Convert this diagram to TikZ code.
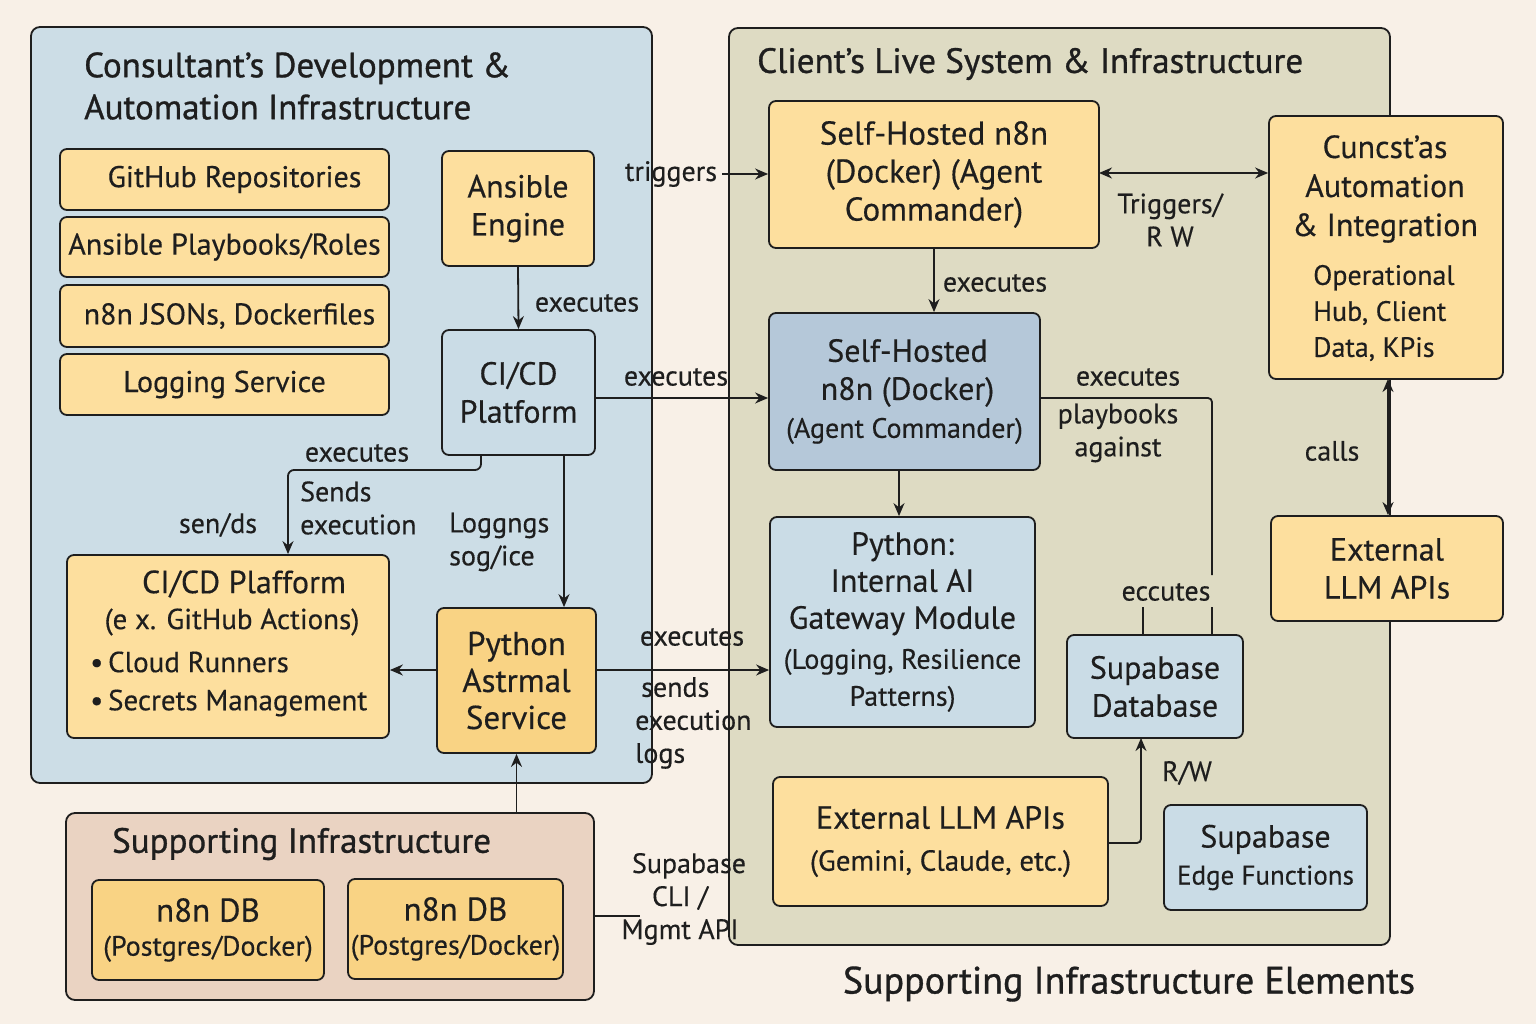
\documentclass[tikz,border=0pt]{standalone}
\usepackage{fontspec}
\setmainfont[FakeBold=0.35]{PT Sans}
\newfontfamily\titlefont[FakeBold=0.9]{PT Sans}
\usetikzlibrary{arrows.meta,calc}
\definecolor{bgc}{HTML}{F8F0E7}
\definecolor{cpan}{HTML}{CCDDE6}
\definecolor{lpan}{HTML}{DEDBC3}
\definecolor{span}{HTML}{EAD3C2}
\definecolor{yel}{HTML}{FDDF9E}
\definecolor{org}{HTML}{F9D384}
\definecolor{lblue}{HTML}{CADCE6}
\definecolor{dblue}{HTML}{B5C8D9}
\definecolor{ink}{HTML}{1E1E1E}
\tikzset{
  panel/.style={draw=ink, line width=1.8pt, rounded corners=9pt, inner sep=0pt},
  box/.style={draw=ink, line width=1.8pt, rounded corners=7pt, inner sep=0pt, align=center, font=\fontsize{31}{37}\selectfont, text=ink},
  ybox/.style={box, fill=yel},
  bbox/.style={box, fill=lblue},
  lbl/.style={inner sep=0pt, font=\fontsize{28}{33}\selectfont, text=ink},
  ttl/.style={inner sep=0pt, text=ink, font=\titlefont\fontsize{35}{42}\selectfont},
  arr/.style={draw=ink, line width=1.8pt, -{Stealth[length=13pt,width=11pt]}},
  darr/.style={draw=ink, line width=1.8pt, {Stealth[length=13pt,width=11pt]}-{Stealth[length=13pt,width=11pt]}},
  ln/.style={draw=ink, line width=1.8pt},
}
\begin{document}
\begin{tikzpicture}[x=1pt,y=-1pt]
\fill[bgc] (0,0) rectangle (1536,1024);
\useasboundingbox (0,0) rectangle (1536,1024);

% panels
\node[panel, fill=cpan, minimum width=621pt, minimum height=756pt] (cpanel) at (341.5,405) {};
\node[panel, fill=lpan, minimum width=661pt, minimum height=917pt] (lpanel) at (1059.5,486.5) {};
\node[panel, fill=span, minimum width=528pt, minimum height=187pt] (spanel) at (330,906.5) {};

% titles
\node[ttl, anchor=west, align=left] (ctitle) at (84,86) {Consultant’s Development \&\\Automation Infrastructure};
\node[ttl, anchor=west] (ltitle) at (757,64) {Client’s Live System \& Infrastructure};
\node[ttl, anchor=west] (stitle) at (112,844) {Supporting Infrastructure};
\node[ttl, font=\titlefont\fontsize{38}{44}\selectfont] (btitle) at (1129,984) {Supporting Infrastructure Elements};

% consultant boxes
\node[ybox, minimum width=329pt, minimum height=61pt, font=\fontsize{30}{35}\selectfont] (gh) at (224.5,179.5) {\hspace*{20pt}GitHub Repositories};
\node[ybox, minimum width=329pt, minimum height=60pt, font=\fontsize{30}{35}\selectfont] (apr) at (224.5,247) {Ansible Playbooks/Roles};
\node[ybox, minimum width=329pt, minimum height=62pt, font=\fontsize{30}{35}\selectfont] (nj) at (224.5,316) {\hspace*{10pt}n8n JSONs, Dockerfiles};
\node[ybox, minimum width=329pt, minimum height=61pt, font=\fontsize{30}{35}\selectfont] (lsv) at (224.5,384.5) {Logging Service};
\node[ybox, minimum width=152pt, minimum height=115pt, font=\fontsize{32}{38}\selectfont] (ae) at (518,208.5) {Ansible\\Engine};
\node[bbox, minimum width=153pt, minimum height=125pt, font=\fontsize{32}{38}\selectfont] (cicd) at (518.5,392.5) {CI/CD\\Platform};
\node[ybox, minimum width=322pt, minimum height=183pt] (cicd2) at (228,646.5) {};
\node[lbl, font=\fontsize{32}{38}\selectfont] (cicd2a) at (244,584) {CI/CD Plafform};
\node[lbl, font=\fontsize{29}{34}\selectfont] (cicd2b) at (232,622) {(e x. GitHub Actions)};
\node[lbl, anchor=west, font=\fontsize{29}{34}\selectfont] (cicd2c) at (90,662) {•\,Cloud Runners};
\node[lbl, anchor=west, font=\fontsize{29}{34}\selectfont] (cicd2d) at (90,703) {•\,Secrets Management};
\node[box, fill=org, minimum width=159pt, minimum height=145pt, font=\fontsize{33}{37}\selectfont] (pas) at (516.5,680.5) {Python\\Astrmal\\Service};

% supporting
\node[box, fill=org, minimum width=232pt, minimum height=100pt, font=\fontsize{33}{38}\selectfont] (db1) at (208,930) {n8n DB\\[-4pt]{\fontsize{28}{33}\selectfont(Postgres/Docker)}};
\node[box, fill=org, minimum width=215pt, minimum height=100pt, font=\fontsize{33}{38}\selectfont] (db2) at (455.5,929) {n8n DB\\[-4pt]{\fontsize{28}{33}\selectfont(Postgres/Docker)}};

% client boxes
\node[ybox, minimum width=330pt, minimum height=147pt, font=\fontsize{33}{38}\selectfont] (shy) at (934,174.5) {Self-Hosted n8n\\(Docker) (Agent\\Commander)};
\node[box, fill=dblue, minimum width=271pt, minimum height=157pt, font=\fontsize{32}{38}\selectfont] (shb) at (904.5,391.5) {\hspace*{6pt}Self-Hosted\\\hspace*{6pt}n8n (Docker)\\{\fontsize{28}{33}\selectfont(Agent Commander)}};
\node[bbox, minimum width=265pt, minimum height=210pt, font=\fontsize{32}{37}\selectfont] (pig) at (902.5,622) {Python:\\Internal AI\\Gateway Module\\[3pt]{\fontsize{28}{33}\selectfont(Logging, Resilience}\\{\fontsize{28}{33}\selectfont Patterns)}};
\node[bbox, minimum width=176pt, minimum height=103pt, font=\fontsize{32}{38}\selectfont] (sdb) at (1155,686.5) {Supabase\\Database};
\node[ybox, minimum width=335pt, minimum height=129pt, font=\fontsize{32}{38}\selectfont] (ext1) at (940.5,841.5) {External LLM APIs\\[4pt]{\fontsize{29}{34}\selectfont(Gemini, Claude, etc.)}};
\node[bbox, minimum width=203pt, minimum height=105pt, font=\fontsize{32}{37}\selectfont] (sef) at (1265.5,857.5) {Supabase\\{\fontsize{27}{32}\selectfont Edge Functions}};
\node[ybox, minimum width=234pt, minimum height=263pt] (cu) at (1386,247.5) {};
\node[lbl, align=center, font=\fontsize{32}{39}\selectfont] (cut) at (1385,189) {Cuncst’as\\Automation\\\& Integration};
\node[lbl, align=left, font=\fontsize{28}{36}\selectfont, anchor=west] (cus) at (1313,313) {Operational\\Hub, Client\\Data, KPis};
\node[ybox, minimum width=232pt, minimum height=105pt, font=\fontsize{32}{38}\selectfont] (ext2) at (1387,568.5) {External\\LLM APIs};

% connectors
\draw[arr] (ae.south) -- (cicd.north);
\node[lbl] (l1) at (587,303) {executes};

\coordinate (trg) at (722,174);
\draw[arr] (trg) -- (trg -| shy.west);
\node[lbl] (l2) at (671,174) {triggers};

\coordinate (c1) at (595,398);
\draw[arr] (c1) -- (c1 -| shb.west);
\node[lbl] (l3) at (676,377) {executes};

\draw[arr] (shy.south) -- (shy.south |- shb.north);
\node[lbl] (l4) at (995,283) {executes};

\coordinate (c2) at (1099,173);
\draw[darr] (c2) -- (c2 -| cu.west);
\node[lbl, align=center] (l5) at (1170,220) {Triggers/\\R W};

\coordinate (c3) at (1040,398);
\coordinate (c4) at (1212,575);
\draw[ln, rounded corners=4pt] (c3) -| (c4);
\draw[ln] ([xshift=57pt]sdb.north) -- ++(0,-27);
\draw[ln] ([xshift=-12pt]sdb.north) -- ++(0,-27);
\node[lbl] (l6) at (1128,377) {executes};
\node[lbl, align=center] (l7) at (1118,433) {playbooks\\against};
\node[lbl] (l8) at (1166,592) {eccutes};

\coordinate (c5) at (899,470);
\draw[arr] (c5) -- (c5 |- pig.north);

\coordinate (c6) at (437,670);
\draw[arr] (c6) -- (c6 -| cicd2.east);
\coordinate (c7) at (596,670);
\draw[arr] (c7) -- (c7 -| pig.west);
\node[lbl] (l9) at (692,637) {executes};
\node[lbl, align=left, anchor=west] (l10) at (635,723) {\hspace*{6pt}sends\\execution\\logs};

\coordinate (c8) at (481,455);
\draw[arr, rounded corners=6pt] (c8) -- (481,470) -| (cicd2.north -| 288,0);
\node[lbl] (l11) at (357,453) {executes};
\node[lbl, align=left, anchor=west] (l12) at (300,508) {Sends\\execution};
\node[lbl] (l13) at (218,525) {sen/ds};

\coordinate (c9) at (564,455);
\draw[arr] (c9) -- (c9 |- pas.north);
\node[lbl, align=left, anchor=west] (l14) at (449,542) {Loggngs\\sog/ice};

\draw[arr] (pas.south |- spanel.north) -- (pas.south);

\coordinate (mg) at (640,916);
\draw[ln] (mg -| spanel.east) -- (mg);
\node[lbl, align=center] (l15) at (680,899) {\hspace*{18pt}Supabase\\CLI /\\Mgmt API};

\coordinate (c10) at (1108,843);
\draw[arr, rounded corners=4pt] (c10) -| (1141,738);
\node[lbl] (l16) at (1187,773) {R/W};

\coordinate (c11) at (1388,379);
\draw[darr] (c11) -- (c11 |- ext2.north);
\node[lbl] (l17) at (1332,451) {calls};
\end{tikzpicture}
\end{document}
